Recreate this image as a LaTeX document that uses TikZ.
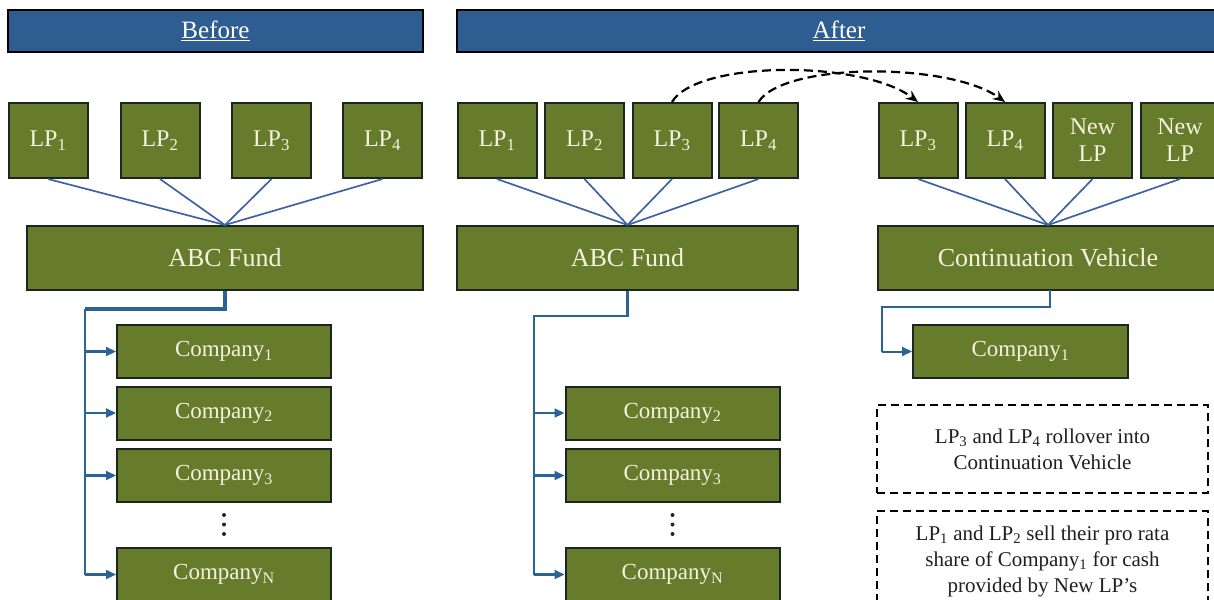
\documentclass[tikz,border=0pt]{standalone}
\usepackage{fontspec}
\setmainfont{Liberation Serif}
\usetikzlibrary{arrows.meta}
\definecolor{boxgreen}{HTML}{677B2C}
\definecolor{boxline}{HTML}{1B271C}
\definecolor{cream}{HTML}{F4F2DC}
\definecolor{hdrblue}{HTML}{2E5D91}
\definecolor{lpline}{HTML}{3E63A0}
\definecolor{coline}{HTML}{2A6496}
\begin{document}
\begin{tikzpicture}[x=1pt,y=-1pt,
  hdr/.style={draw=black, line width=2pt, fill=hdrblue, text=white, inner sep=0pt,
    minimum height=42pt, font=\fontsize{25}{28}\selectfont},
  lpbox/.style={draw=boxline, line width=2pt, fill=boxgreen, text=cream, inner sep=0pt,
    minimum width=79pt, minimum height=75pt, align=center, font=\fontsize{24}{27}\selectfont},
  fundbox/.style={draw=boxline, line width=2pt, fill=boxgreen, text=cream, inner sep=0pt,
    minimum height=64pt, font=\fontsize{26}{28}\selectfont},
  cobox/.style={draw=boxline, line width=2pt, fill=boxgreen, text=cream, inner sep=0pt,
    minimum width=214pt, minimum height=53pt, font=\fontsize{23}{26}\selectfont},
  notebox/.style={draw=black, line width=2pt, dash pattern=on 8pt off 5pt, fill=white,
    text=black!88, inner sep=0pt, minimum width=331pt, align=center,
    font=\fontsize{21}{26}\selectfont},
  lpconn/.style={draw=lpline, line width=1.7pt},
  coconn/.style={draw=coline, line width=2.4pt},
  coarrow/.style={draw=coline, line width=2.2pt, -{Triangle[length=10pt,width=9pt]}},
  roll/.style={draw=black, line width=2.2pt, dash pattern=on 9pt off 5pt,
    -{Stealth[length=12pt,width=10pt]}},
  dot/.style={circle, fill=black!85, inner sep=0pt, minimum size=4pt}
]
\useasboundingbox (0,0) rectangle (1214,599);
\clip (0,0) rectangle (1214,599);

% headers
\node[hdr, minimum width=415pt] (hb) at (215.5,31) {\underline{Before}};
\node[hdr, minimum width=764pt] (ha) at (839,31) {\underline{After}};

% ---------- Before ----------
\node[lpbox] (b1) at (48,140.5) {LP\textsubscript{1}};
\node[lpbox] (b2) at (160,140.5) {LP\textsubscript{2}};
\node[lpbox] (b3) at (271.5,140.5) {LP\textsubscript{3}};
\node[lpbox] (b4) at (382.5,140.5) {LP\textsubscript{4}};
\node[fundbox, minimum width=396pt] (fa) at (225,258) {ABC Fund};
\foreach \i in {1,...,4} \draw[lpconn] (b\i.south) -- (fa.north);

\node[cobox] (bc1) at (224,351.5) {Company\textsubscript{1}};
\node[cobox] (bc2) at (224,413) {Company\textsubscript{2}};
\node[cobox] (bc3) at (224,475.5) {Company\textsubscript{3}};
\node[dot] (bd1) at (224,515) {};
\node[dot] (bd2) at (224,524.5) {};
\node[dot] (bd3) at (224,534) {};
\node[cobox] (bcn) at (224,574.5) {Company\textsubscript{N}};

\coordinate (bt1) at (fa.south |- 0,309);
\coordinate (bt2) at (85,309);
\draw[coconn, line width=3.4pt] (fa.south) -- (bt1) -- (bt2);
\draw[coconn] (bt2) -- (bt2 |- bcn.west);
\foreach \n in {bc1,bc2,bc3,bcn} \draw[coarrow] (bt2 |- \n.west) -- (\n.west);

% ---------- After (ABC Fund) ----------
\node[lpbox] (a1) at (497,140.5) {LP\textsubscript{1}};
\node[lpbox] (a2) at (584.5,140.5) {LP\textsubscript{2}};
\node[lpbox] (a3) at (672,140.5) {LP\textsubscript{3}};
\node[lpbox] (a4) at (758.5,140.5) {LP\textsubscript{4}};
\node[fundbox, minimum width=341pt] (fb) at (627.5,258) {ABC Fund};
\foreach \i in {1,...,4} \draw[lpconn] (a\i.south) -- (fb.north);

\node[cobox] (ac2) at (672.5,413) {Company\textsubscript{2}};
\node[cobox] (ac3) at (672.5,475.5) {Company\textsubscript{3}};
\node[dot] (ad1) at (672.5,515) {};
\node[dot] (ad2) at (672.5,524.5) {};
\node[dot] (ad3) at (672.5,534) {};
\node[cobox] (acn) at (672.5,574.5) {Company\textsubscript{N}};

\coordinate (at1) at (fb.south |- 0,316);
\coordinate (at2) at (534,316);
\draw[coconn] (fb.south) -- (at1) -- (at2) -- (at2 |- acn.west);
\foreach \n in {ac2,ac3,acn} \draw[coarrow] (at2 |- \n.west) -- (\n.west);

% ---------- After (Continuation Vehicle) ----------
\node[lpbox] (r3) at (918,140.5) {LP\textsubscript{3}};
\node[lpbox] (r4) at (1005,140.5) {LP\textsubscript{4}};
\node[lpbox] (r5) at (1092.5,140.5) {New\\LP};
\node[lpbox] (r6) at (1180,140.5) {New\\LP};
\node[fundbox, minimum width=340pt] (cv) at (1048,258) {Continuation Vehicle};
\foreach \i in {3,...,6} \draw[lpconn] (r\i.south) -- (cv.north);

\node[cobox, minimum width=215pt] (rc1) at (1020.5,351.5) {Company\textsubscript{1}};
\coordinate (rt0) at (1050,290);
\coordinate (rt1) at (1050,307);
\coordinate (rt2) at (882,307);
\draw[coconn, line width=2pt] (rt0) -- (rt1) -- (rt2) -- (rt2 |- rc1.west);
\draw[coarrow, line width=2pt] (rt2 |- rc1.west) -- (rc1.west);

% notes
\node[notebox, minimum height=88pt] (n1) at (1042.5,449)
  {LP\textsubscript{3} and LP\textsubscript{4} rollover into\\Continuation Vehicle};
\node[notebox, minimum height=100pt, anchor=north] (n2) at (1042.5,510)
  {LP\textsubscript{1} and LP\textsubscript{2} sell their pro rata\\share of Company\textsubscript{1} for cash\\provided by New LP's};

% rollover arrows
\draw[roll] (a3.north) .. controls ([shift={(25,-42)}]a3.north) and ([shift={(-55,-42)}]r3.north) .. (r3.north);
\draw[roll] (a4.north) .. controls ([shift={(25,-40)}]a4.north) and ([shift={(-55,-40)}]r4.north) .. (r4.north);
\end{tikzpicture}
\end{document}
